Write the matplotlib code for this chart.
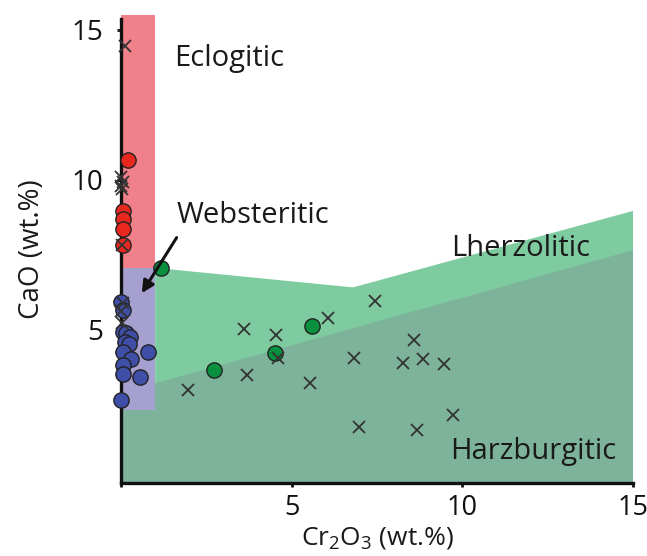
import numpy as np
import matplotlib.pyplot as plt
from matplotlib.patches import Polygon

plt.rcParams['font.family'] = ['Open Sans', 'DejaVu Sans']
plt.rcParams['mathtext.fontset'] = 'custom'
plt.rcParams['mathtext.rm'] = 'Open Sans'

# 数据 (Cr2O3, CaO  wt.%)
cross_x = [1.97, 3.61, 3.68, 4.55, 4.61, 5.53, 6.05, 7.44, 6.83, 6.98,
           8.59, 8.25, 8.86, 9.45, 9.72, 8.66,
           0.12, 0.0, 0.05, 0.0, 0.04, 0.02, 0.05, 0.0, 0.02]
cross_y = [2.99, 5.03, 3.49, 4.82, 4.08, 3.23, 5.41, 5.98, 4.08, 1.78,
           4.66, 3.90, 4.02, 3.87, 2.17, 1.68,
           14.46, 10.1, 9.95, 9.8, 9.7, 7.82, 5.9, 5.62, 5.25]

red_x = [0.2, 0.05, 0.05, 0.05, 0.05]
red_y = [10.68, 8.97, 8.69, 8.36, 7.82]

blue_x = [0.0, 0.05, 0.05, 0.15, 0.25, 0.12, 0.22, 0.05, 0.3, 0.8,
          0.07, 0.07, 0.56, 0.0]
blue_y = [5.95, 5.67, 4.94, 4.89, 4.78, 4.61, 4.55, 4.27, 4.05, 4.27,
          3.83, 3.55, 3.43, 2.67]

green_x = [1.17, 2.71, 4.51, 5.61]
green_y = [7.07, 3.68, 4.24, 5.12]

# 区域边界
eclo_box = [(0, 7.07), (1, 7.07), (1, 15.5), (0, 15.5)]
webs_box = [(0, 2.35), (1, 2.35), (1, 7.07), (0, 7.07)]
lherz_poly = [(1, -0.1), (1, 7.07), (6.8, 6.42), (15, 8.97), (15, -0.1)]
harz_poly = [(0, -0.1), (0, 2.35), (1, 2.35), (1, 3.22), (15, 7.66), (15, -0.1)]

fig = plt.figure(figsize=(6.47, 5.56), dpi=100)
ax = fig.add_axes([121 / 647, 73 / 556, 512 / 647, 468 / 556])

ax.add_patch(Polygon(lherz_poly, closed=True, fc='#7ecb9f', ec='none', zorder=1))
ax.add_patch(Polygon(harz_poly, closed=True, fc='#7db39a', ec='none', zorder=2))
ax.add_patch(Polygon(eclo_box, closed=True, fc='#f0808a', ec='none', zorder=2))
ax.add_patch(Polygon(webs_box, closed=True, fc='#a5a0cf', ec='none', zorder=2))

ax.plot(red_x, red_y, 'o', ms=11, mfc='#e8281e', mec='#222222', mew=1.0,
        zorder=5, clip_on=False)
ax.plot(blue_x, blue_y, 'o', ms=11, mfc='#3f4fa8', mec='#222222', mew=1.0,
        zorder=5, clip_on=False)
ax.plot(green_x, green_y, 'o', ms=11, mfc='#08903f', mec='#222222', mew=1.0,
        zorder=5, clip_on=False)
ax.plot(cross_x, cross_y, 'x', ms=9, mec='#333333', mew=1.3,
        zorder=6, clip_on=False)

# 标注
txt = dict(fontsize=21, ha='center', va='center', color='#1a1a1a')
ax.text(3.17, 14.05, 'Eclogitic', **txt)
ax.text(3.87, 8.8, 'Websteritic', **txt)
ax.text(11.7, 7.7, 'Lherzolitic', **txt)
ax.text(12.07, 0.95, 'Harzburgitic', **txt)
ax.annotate('', xy=(0.61, 6.23), xytext=(1.63, 8.08),
            arrowprops=dict(arrowstyle='-|>', color='#111111', lw=2.2,
                            mutation_scale=18, shrinkA=0, shrinkB=0),
            zorder=7)

ax.set_xlim(0, 15)
ax.set_ylim(-0.1, 15.5)
ax.spines['top'].set_visible(False)
ax.spines['right'].set_visible(False)
for s in ['left', 'bottom']:
    ax.spines[s].set_linewidth(2.4)
    ax.spines[s].set_color('#111111')
    ax.spines[s].set_zorder(3)
ax.spines['left'].set_bounds(-0.1, 15.35)
ax.set_xticks([0, 5, 10, 15])
ax.set_xticklabels(['', '5', '10', '15'])
ax.set_yticks([5, 10, 15])
ax.set_yticklabels(['5', '10', '15'])
ax.tick_params(length=3, width=2, labelsize=20, colors='#111111')
ax.tick_params(axis='y', pad=10)
ax.tick_params(axis='x', pad=5, labelsize=19.5)
ax.set_xlabel(r'Cr$_2$O$_3$ (wt.%)', fontsize=19, color='#1a1a1a', labelpad=2)
ax.set_ylabel('CaO (wt.%)', fontsize=20, color='#1a1a1a', labelpad=18)

fig.savefig('out.png', dpi=100)
